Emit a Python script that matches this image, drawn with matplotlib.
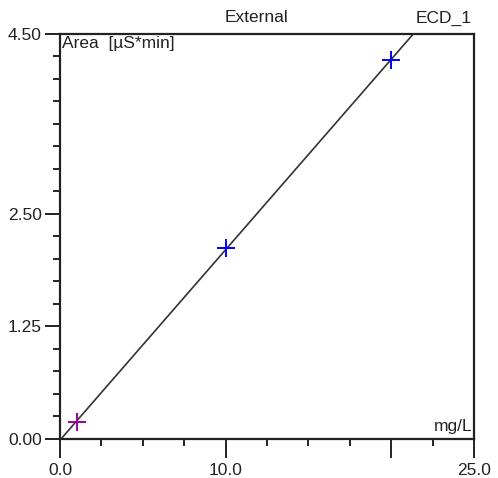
import numpy as np
import matplotlib.pyplot as plt
from matplotlib.ticker import FixedLocator, MultipleLocator

plt.rcParams['font.family'] = ['Liberation Sans', 'DejaVu Sans']

# calibration standards (concentration mg/L, area uS*min)
conc = [1.0, 10.0, 20.0]
area = [0.19, 2.12, 4.21]
pt_colors = ['#990099', '#0000ff', '#0000ff']

x_major = [0, 10, 20, 25]
x_labels = ['0.0', '10.0', '', '25.0']
y_major = [0, 1.25, 2.5, 4.5]
y_labels = ['0.00', '1.25', '2.50', '4.50']

fig = plt.figure(figsize=(4.98, 4.78), dpi=100)
ax = fig.add_axes([0.1205, 0.0816, 0.8313, 0.8473])

# linear calibration fit
k, d = np.polyfit(conc, area, 1)
xx = np.linspace(0, 25, 200)
ax.plot(xx, k * xx + d, color='#333333', lw=1.2, zorder=2)

for c, a, col in zip(conc, area, pt_colors):
    ax.plot(c, a, marker='+', color=col, ms=13, mew=1.4, ls='none', zorder=3)

ax.set_xlim(0, 25)
ax.set_ylim(0, 4.5)

ax.xaxis.set_major_locator(FixedLocator(x_major))
ax.set_xticklabels(x_labels)
ax.xaxis.set_minor_locator(MultipleLocator(2.5))
ax.yaxis.set_major_locator(FixedLocator(y_major))
ax.set_yticklabels(y_labels)
ax.yaxis.set_minor_locator(MultipleLocator(0.25))

ax.tick_params(which='major', direction='out', length=11, width=1.4,
               labelsize=12.5, pad=2, colors='#222222')
ax.tick_params(axis='x', which='major', length=14, pad=3)
ax.tick_params(which='minor', direction='out', length=5, width=1.4,
               colors='#222222')
for s in ax.spines.values():
    s.set_linewidth(1.6)
    s.set_color('#222222')

ax.text(0.005, 0.995, 'Area  [µS*min]', transform=ax.transAxes,
        ha='left', va='top', fontsize=12.5, color='#222222')
ax.text(0.995, 0.012, 'mg/L', transform=ax.transAxes,
        ha='right', va='bottom', fontsize=12.5, color='#222222')
fig.text(257 / 498, 1 - 18 / 478, 'External', ha='center', va='center',
         fontsize=12.5, color='#222222')
fig.text(472 / 498, 1 - 18 / 478, 'ECD_1', ha='right', va='center',
         fontsize=12.5, color='#222222')

fig.savefig('out.png', dpi=100)
